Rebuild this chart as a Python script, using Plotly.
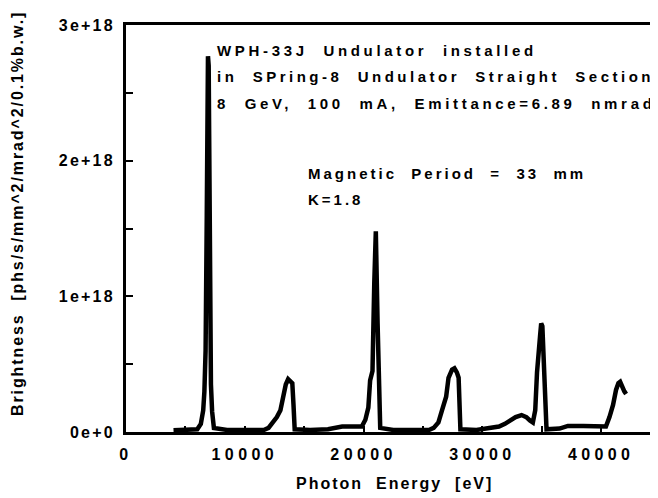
import plotly.graph_objects as go

# Photon energy [eV] and brightness [phs/s/mm^2/mrad^2/0.1%b.w.]
energy_ev = [
    4000, 4800, 5600, 6000, 6300, 6500, 6600, 6700, 6800, 6900, 6960, 7000, 7080, 7150, 7250, 7400,
    8500, 10000, 11600, 12000, 12400, 12700, 13000, 13250, 13450, 13650, 13850, 14000, 14100, 14200,
    15500, 17000, 18200, 19850, 20150, 20400, 20550, 20750, 20900, 21030, 21180, 21300, 21400,
    22500, 24000, 25500, 25900, 26300, 26600, 26950, 27150, 27450, 27650, 27850, 28000, 28080, 28150,
    29500, 31400, 31900, 32400, 32800, 33300, 33700, 34000, 34250, 34450, 34600, 34850, 34950, 35050, 35150, 35300, 35400,
    36500, 37200, 38500, 40000, 40400, 40700, 41000, 41250, 41450, 41600, 41800, 41950, 42100,
]
brightness = [
    0.012e18, 0.015e18, 0.018e18, 0.02e18, 0.06e18, 0.16e18, 0.3e18, 0.6e18, 1.6e18, 2.77e18, 2.7e18, 2.2e18, 1.0e18, 0.35e18, 0.15e18, 0.03e18,
    0.015e18, 0.015e18, 0.015e18, 0.03e18, 0.07e18, 0.11e18, 0.16e18, 0.26e18, 0.35e18, 0.39e18, 0.37e18, 0.36e18, 0.2e18, 0.02e18,
    0.015e18, 0.02e18, 0.04e18, 0.04e18, 0.09e18, 0.18e18, 0.38e18, 0.45e18, 1.1e18, 1.48e18, 0.8e18, 0.3e18, 0.03e18,
    0.015e18, 0.015e18, 0.015e18, 0.03e18, 0.07e18, 0.16e18, 0.26e18, 0.40e18, 0.46e18, 0.47e18, 0.44e18, 0.40e18, 0.2e18, 0.02e18,
    0.015e18, 0.04e18, 0.06e18, 0.09e18, 0.11e18, 0.125e18, 0.11e18, 0.085e18, 0.07e18, 0.16e18, 0.44e18, 0.7e18, 0.80e18, 0.78e18, 0.5e18, 0.15e18, 0.02e18,
    0.025e18, 0.045e18, 0.045e18, 0.04e18, 0.04e18, 0.11e18, 0.2e18, 0.31e18, 0.36e18, 0.37e18, 0.32e18, 0.30e18, 0.28e18,
]

x_tick_vals = [0, 10000, 20000, 30000, 40000]
x_tick_text = ["0", "10000", "20000", "30000", "40000"]
y_tick_vals = [0, 1e18, 2e18, 3e18]
y_tick_text = ["0e+0", "1e+18", "2e+18", "3e+18"]

x_title = "Photon  Energy  [eV]"
y_title = "Brightness  [phs/s/mm^2/mrad^2/0.1%b.w.]"
info_lines = [
    "WPH-33J  Undulator  installed",
    "in  SPring-8  Undulator  Straight  Section",
    "8  GeV,  100  mA,  Emittance=6.89  nmrad",
]
param_lines = ["Magnetic  Period  =  33  mm", "K=1.8"]

FONT = "Liberation Sans"


def spaced(t, ls):
    return f'<span style="letter-spacing:{ls}px">{t}</span>'


fig = go.Figure()
fig.add_trace(go.Scatter(
    x=energy_ev, y=brightness, mode="lines",
    line=dict(color="black", width=4.5),
    hoverinfo="skip",
))

# the page body has an 8px margin, so the figure is drawn 8px right/down
OFF = 8
W, H = 650, 490
L, R, T, B = 118, 1, 17, 66
pw, ph = W - L - R, H - T - B


def px(xpage):
    return (xpage - OFF - L) / pw


def py(ypage):
    return (H - B - (ypage - OFF)) / ph


annotations = []
info_y = [51, 77, 103]
info_ls = [3.67, 3.5, 3.67]
for line, yy, ls in zip(info_lines, info_y, info_ls):
    annotations.append(dict(
        text=spaced(line, ls), x=px(215), y=py(yy), xref="paper", yref="paper",
        xanchor="left", yanchor="middle", showarrow=False,
        font=dict(family=FONT, size=15, color="black", weight="bold"),
    ))
param_y = [173, 199]
for line, yy in zip(param_lines, param_y):
    annotations.append(dict(
        text=spaced(line, 3.0), x=px(306), y=py(yy), xref="paper", yref="paper",
        xanchor="left", yanchor="middle", showarrow=False,
        font=dict(family=FONT, size=15, color="black", weight="bold"),
    ))
annotations.append(dict(
    text=spaced(x_title, 2), x=px(394), y=py(483), xref="paper", yref="paper",
    xanchor="center", yanchor="middle", showarrow=False,
    font=dict(family=FONT, size=16, color="black", weight="bold"),
))
annotations.append(dict(
    text=spaced(y_title, 1.9), x=px(17), y=py(214), xref="paper", yref="paper",
    xanchor="center", yanchor="middle", showarrow=False, textangle=-90,
    font=dict(family=FONT, size=16, color="black", weight="bold"),
))

fig.update_layout(
    width=W, height=H,
    margin=dict(l=L, r=R, t=T, b=B),
    paper_bgcolor="white", plot_bgcolor="white",
    showlegend=False,
    annotations=annotations,
    xaxis=dict(
        range=[0, 44700], showgrid=False, zeroline=False,
        showline=True, linecolor="black", linewidth=3, mirror=True,
        ticks="inside", ticklen=6, tickwidth=2, tickcolor="black",
        tickvals=x_tick_vals, ticktext=[spaced(t, 4.4) for t in x_tick_text],
        tickfont=dict(family=FONT, size=16, color="black", weight="bold"),
        ticklabelstandoff=6,
        minor=dict(dtick=5000, tick0=0, ticks="inside", ticklen=6, tickwidth=2, tickcolor="black"),
    ),
    yaxis=dict(
        range=[0, 3e18], showgrid=False, zeroline=False,
        showline=True, linecolor="black", linewidth=3, mirror=False,
        ticks="inside", ticklen=7, tickwidth=2, tickcolor="black",
        tickvals=y_tick_vals, ticktext=[spaced(t, 2.2) for t in y_tick_text],
        tickfont=dict(family=FONT, size=16, color="black", weight="bold"),
        ticklabelstandoff=5,
        minor=dict(dtick=0.5e18, tick0=0, ticks="inside", ticklen=7, tickwidth=2, tickcolor="black"),
    ),
)

fig.write_html("out.html")
